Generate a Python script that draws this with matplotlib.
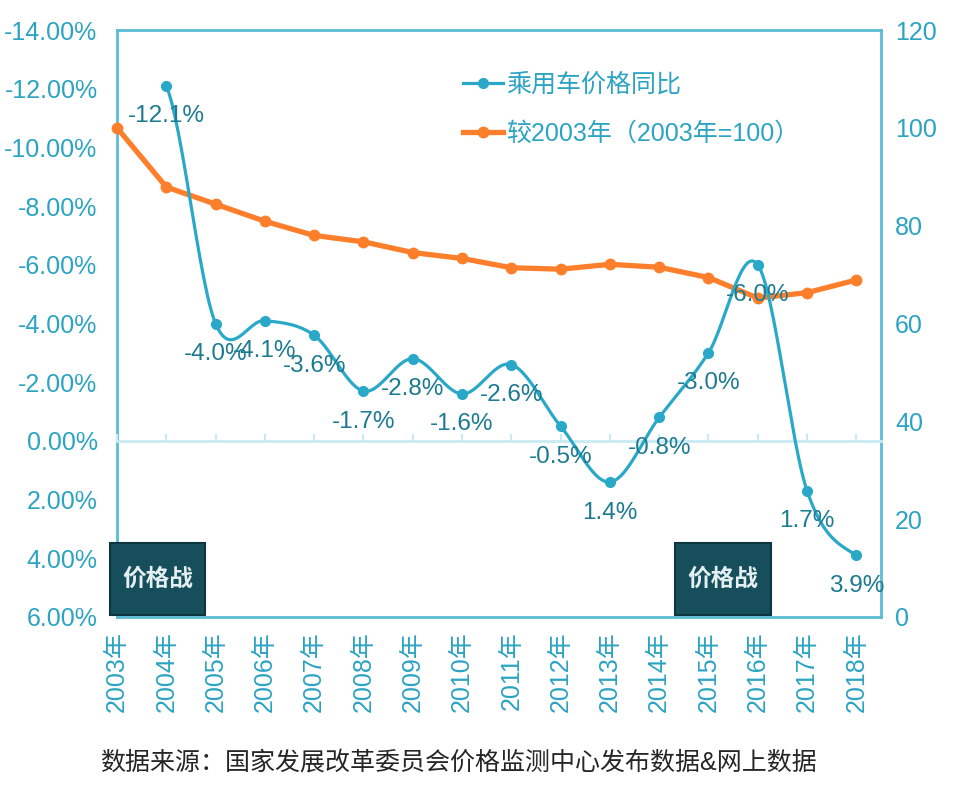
import numpy as np
import matplotlib
matplotlib.use("Agg")
import matplotlib.pyplot as plt
from matplotlib.patches import Rectangle

plt.rcParams['font.family'] = ['Liberation Sans', 'Noto Sans CJK SC', 'DejaVu Sans']

# data
years = ['2003年', '2004年', '2005年', '2006年', '2007年', '2008年', '2009年', '2010年',
         '2011年', '2012年', '2013年', '2014年', '2015年', '2016年', '2017年', '2018年']
# yoy change of passenger car prices (%), no value for 2003
yoy = [None, -12.1, -4.0, -4.1, -3.6, -1.7, -2.8, -1.6, -2.6, -0.5, 1.4, -0.8, -3.0, -6.0, 1.7, 3.9]
yoy_labels = ['-12.1%', '-4.0%', '-4.1%', '-3.6%', '-1.7%', '-2.8%', '-1.6%', '-2.6%',
              '-0.5%', '1.4%', '-0.8%', '-3.0%', '-6.0%', '1.7%', '3.9%']
# index vs 2003 (2003 = 100)
index = [100, 87.9, 84.4, 80.9, 78.0, 76.7, 74.5, 73.3, 71.4, 71.1, 72.1, 71.5, 69.4, 65.2, 66.3, 68.9]
left_ticks = [-14, -12, -10, -8, -6, -4, -2, 0, 2, 4, 6]
right_ticks = [0, 20, 40, 60, 80, 100, 120]
war_box_left = [-0.14, 11.33]   # left edges of the 价格战 boxes

blue = '#2aa8c8'
orange = '#fd7f2c'
tick_col = '#2ba3c2'
spine_col = '#5bbcd6'
label_col = '#1d7b91'

fig = plt.figure(figsize=(9.54, 7.93), dpi=100)
ax = fig.add_axes([117/954, 1-617/793, 764/954, 587/793])
ax2 = ax.twinx()
# blue series + labels on top of the orange line
ax.set_zorder(ax2.get_zorder() + 1)
ax.patch.set_visible(False)

x = np.arange(len(years))

# smoothed blue line (catmull-rom style like excel smoothing)
bx = np.array([i for i, v in enumerate(yoy) if v is not None], dtype=float)
by = np.array([v for v in yoy if v is not None], dtype=float)
n = len(by)
tang = np.zeros(n)
tang[1:-1] = (by[2:] - by[:-2]) / 2
tang[0] = (by[1] - by[0]) / 2
tang[-1] = (by[-1] - by[-2]) / 2
sx, sy = [], []
for i in range(n - 1):
    t = np.linspace(0, 1, 30)
    h00 = 2*t**3 - 3*t**2 + 1
    h10 = t**3 - 2*t**2 + t
    h01 = -2*t**3 + 3*t**2
    h11 = t**3 - t**2
    sy.extend(h00*by[i] + h10*tang[i] + h01*by[i+1] + h11*tang[i+1])
    sx.extend(bx[i] + t)
ax.plot(sx, sy, color=blue, lw=2.3, zorder=3)
ax.plot(bx, by, 'o', color=blue, ms=7, zorder=4)
for xi, yi, lab in zip(bx, by, yoy_labels):
    ax.annotate(lab, (xi, yi), xytext=(0, -22), textcoords='offset points',
                ha='center', va='center', fontsize=17.5, color=label_col, zorder=5)

ax.set_xlim(0, 15.5)
ax.set_ylim(6, -14)
ax.set_yticks(left_ticks)
ax.set_yticklabels(['%.2f%%' % v for v in left_ticks])
ax.set_xticks(x)
ax.set_xticklabels(years, rotation=90)
ax.tick_params(axis='y', length=0, pad=14, labelsize=18, labelcolor=tick_col)
ax.tick_params(axis='x', length=0, pad=10, labelsize=18, labelcolor=tick_col)
for s in ax.spines.values():
    s.set_visible(False)

# category axis at zero with small upward ticks
sec = ax.secondary_xaxis(0.3)
sec.set_xticks(x)
sec.set_xticklabels([])
sec.tick_params(direction='in', length=5, width=1.5, color='#c8eaf3')
sec.spines['bottom'].set_color('#c8eaf3')
sec.spines['bottom'].set_linewidth(2)

# orange index line on right axis
ax2.plot(x, index, '-o', color=orange, lw=3.8, ms=7.5, zorder=3, clip_on=False)
ax2.set_ylim(0, 120)
ax2.set_yticks(right_ticks)
ax2.tick_params(axis='y', length=0, pad=10, labelsize=18, labelcolor=tick_col)
for s in ax2.spines.values():
    s.set_color(spine_col)
    s.set_linewidth(2)

# legend
h1, = ax2.plot([], [], '-o', color=blue, lw=2.3, ms=7)
h2, = ax2.plot([], [], '-o', color=orange, lw=3.8, ms=7.5)
leg = ax2.legend([h1, h2], ['乘用车价格同比', '较2003年（2003年=100）'], loc='upper left',
                 bbox_to_anchor=(0.44, 0.945), frameon=False, fontsize=18,
                 handlelength=1.6, handletextpad=0.1, labelspacing=1.0, borderaxespad=0)
for t in leg.get_texts():
    t.set_color(tick_col)

# price war boxes
for bl in war_box_left:
    ax2.add_patch(Rectangle((bl, 0.4), 1.93, 14.7, facecolor='#164f5b',
                            edgecolor='#0d3640', lw=1.5, zorder=6, clip_on=False))
    ax2.text(bl + 0.96, 7.8, '价格战', ha='center', va='center', fontsize=17,
             fontweight='bold', color='#e3eff1', zorder=7)

fig.text(100/954, 1-763/793, '数据来源：国家发展改革委员会价格监测中心发布数据&网上数据',
         fontsize=18, color='#262626', ha='left', va='center')

fig.savefig('out.png', dpi=100)
